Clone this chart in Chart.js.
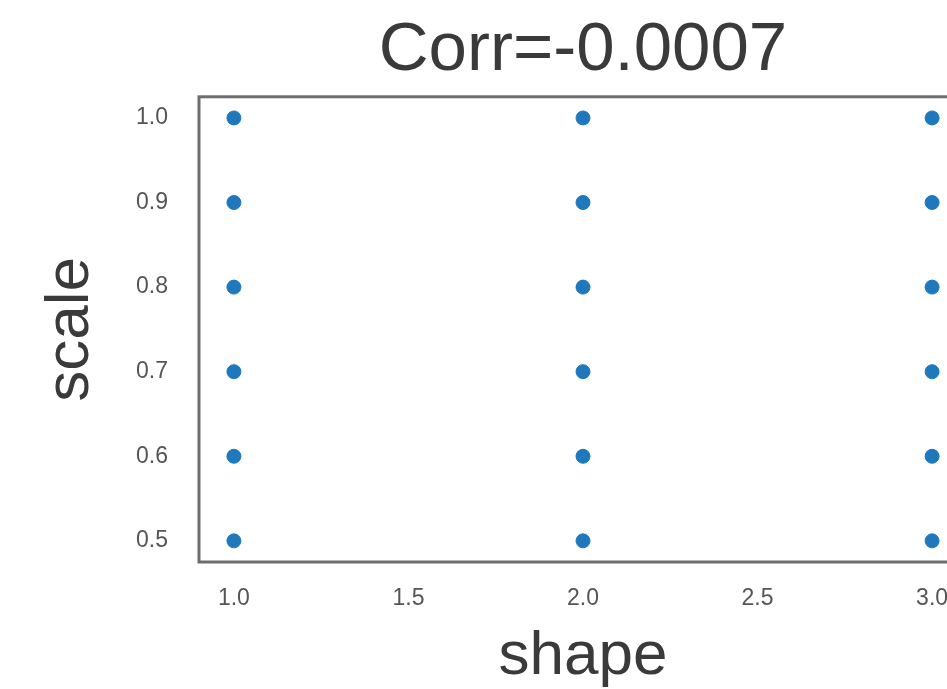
<!DOCTYPE html>
<html>
<head>
<meta charset="utf-8">
<script src="https://cdn.jsdelivr.net/npm/chart.js@4"></script>
<style>
    html, body { margin: 0; padding: 0; background: #fff; overflow: hidden; }
    #wrap { width: 975px; height: 689px; }
</style>
</head>
<body>
<div id="wrap"><canvas id="myChart" width="975" height="689"></canvas></div>
<script>
var shapeValues = [1.0, 2.0, 3.0];
var scaleValues = [0.5, 0.6, 0.7, 0.8, 0.9, 1.0];
var xTicks = [1.0, 1.5, 2.0, 2.5, 3.0];
var yTicks = [0.5, 0.6, 0.7, 0.8, 0.9, 1.0];
var chartTitle = "Corr=-0.0007";

var points = [];
for (let i = 0; i < shapeValues.length; i++) {
    for (let j = 0; j < scaleValues.length; j++) {
        points.push({ x: shapeValues[i], y: scaleValues[j] });
    }
}

// frame round the plot area (matplotlib spines)
var frame = {
    id: "frame",
    beforeDatasetsDraw: function (chart) {
        var a = chart.chartArea, ctx = chart.ctx;
        ctx.save();
        ctx.strokeStyle = "#6e6e6e";
        ctx.lineWidth = 3;
        ctx.strokeRect(a.left, a.top, a.right - a.left, a.bottom - a.top);
        ctx.restore();
    },
};

var font = "'Liberation Sans', Arial, sans-serif";

var config = {
    type: "scatter",
    data: {
        datasets: [
            {
                data: points,
                backgroundColor: "rgb(31, 119, 188)",
                borderColor: "rgb(31, 119, 188)",
                pointRadius: 7,
                pointHoverRadius: 7,
            },
        ],
    },
    options: {
        responsive: false,
        animation: false,
        layout: { padding: { top: 0, right: 8, bottom: 0, left: 0 } },
        plugins: {
            legend: { display: false },
            tooltip: { enabled: false },
            title: {
                display: true,
                text: chartTitle,
                color: "#3a3a3a",
                font: { family: font, size: 69, weight: "normal" },
                padding: { top: 10, bottom: 4 },
                fullSize: false,
            },
        },
        scales: {
            x: {
                type: "linear",
                min: 0.9,
                max: 3.1,
                afterBuildTicks: function (s) {
                    s.ticks = xTicks.map(function (v) { return { value: v }; });
                },
                afterFit: function (s) { s.height = 127; },
                grid: { display: false, drawTicks: false },
                border: { display: false },
                ticks: {
                    color: "#555",
                    padding: 23,
                    font: { family: font, size: 23 },
                    callback: function (v) { return v.toFixed(1); },
                },
                title: {
                    display: true,
                    text: "shape",
                    color: "#3a3a3a",
                    font: { family: font, size: 62 },
                    padding: { top: 0, bottom: -5 },
                },
            },
            y: {
                type: "linear",
                min: 0.475,
                max: 1.025,
                afterBuildTicks: function (s) {
                    s.ticks = yTicks.map(function (v) { return { value: v }; });
                },
                afterFit: function (s) { s.width = 199; },
                grid: { display: false, drawTicks: false },
                border: { display: false },
                ticks: {
                    color: "#555",
                    padding: 31,
                    font: { family: font, size: 23 },
                    callback: function (v) { return v.toFixed(1); },
                },
                title: {
                    display: true,
                    text: "scale",
                    color: "#3a3a3a",
                    font: { family: font, size: 62 },
                    padding: { top: 34, bottom: 0 },
                },
            },
        },
    },
    plugins: [frame],
};

var myChart = new Chart(document.getElementById("myChart"), config);
</script>
</body>
</html>
